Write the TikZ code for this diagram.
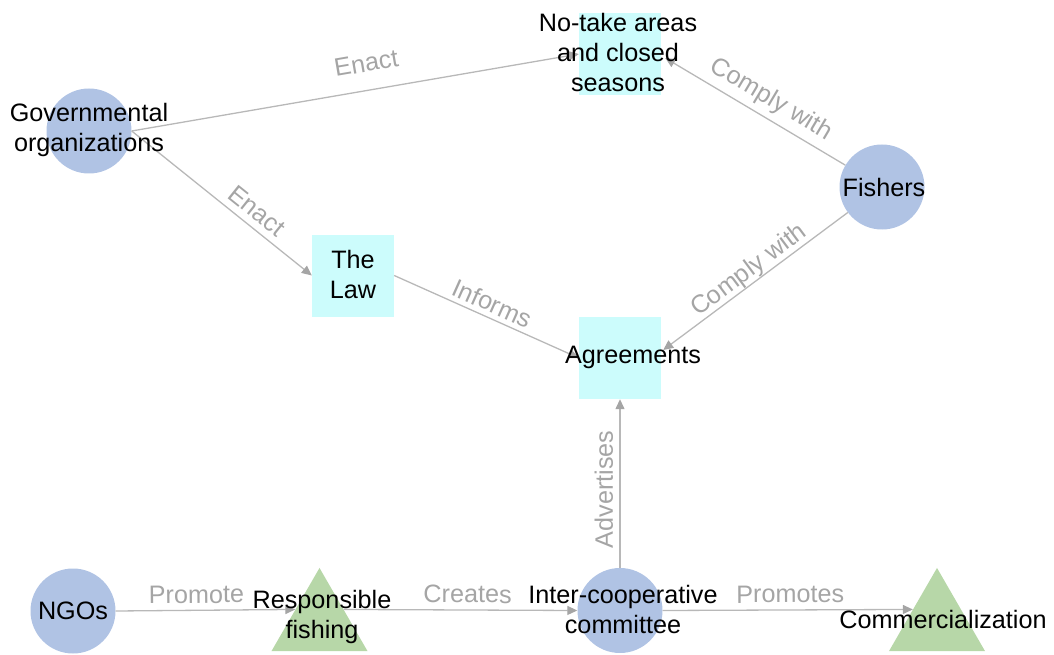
\documentclass[tikz,border=0pt]{standalone}
\usepackage{fontspec}
\setmainfont{Liberation Sans}
\usetikzlibrary{shapes.geometric,arrows.meta,calc}
\definecolor{actorblue}{RGB}{176,195,228}
\definecolor{rulecyan}{RGB}{204,252,252}
\definecolor{outgreen}{RGB}{183,215,168}
\definecolor{edgegray}{RGB}{184,184,184}
\definecolor{labgray}{RGB}{165,165,165}
\tikzset{
  actor/.style={circle,fill=actorblue,draw=none,minimum size=85pt,inner sep=0pt},
  rulebox/.style={rectangle,fill=rulecyan,draw=none,minimum size=82pt,inner sep=0pt},
  outcome/.style={regular polygon,regular polygon sides=3,fill=outgreen,draw=none,minimum size=110.9pt,inner sep=0pt},
  txt/.style={font=\fontsize{25.2}{30}\selectfont,align=center,inner sep=0pt,text=black},
  link/.style={draw=edgegray,line width=1.3pt,-{Triangle[length=10pt,width=9pt,fill=labgray,color=labgray]}},
  lab/.style={font=\fontsize{25.2}{30}\selectfont,text=labgray,inner sep=0pt,text height=17pt,text depth=5pt,sloped}
}
\begin{document}
\begin{tikzpicture}[x=1pt,y=-1pt]
\useasboundingbox (0,0) rectangle (1054,655);
% shapes
\node[actor] (gov) at (89,131) {};
\node[rulebox] (notake) at (620,54) {};
\node[actor] (fishers) at (882,187) {};
\node[rulebox] (law) at (353,275.5) {};
\node[rulebox] (agr) at (620,358) {};
\node[actor] (ngo) at (73,611) {};
\node[outcome] (resp) at (319.5,623.4) {};
\node[actor] (coop) at (620,610.5) {};
\node[outcome] (comm) at (937,623.4) {};
% connectors
\draw[link] (gov.east) -- node[lab,pos=0.535,above=13pt] {Enact} (notake.west);
\draw[link] (gov.east) -- node[lab,pos=0.64,above=2pt] {Enact} (law.west);
\draw[link] (law.east) -- node[lab,pos=0.5,above=0pt] {Informs} (agr.west);
\draw[link] (fishers) -- node[lab,pos=0.463,above=6pt] {Comply with} ([shift={(4,4)}]notake.east);
\draw[link] (fishers) -- node[lab,pos=0.494,above=0pt] {Comply with} ([shift={(2,-8)}]agr.east);
\draw[link] (coop.north) -- node[lab,pos=0.465,above=1.5pt] {Advertises} (agr.south);
\draw[link] (ngo.east) -- node[lab,pos=0.45,above=1.5pt] {Promote} ($(resp.corner 1)!0.5!(resp.corner 2)$);
\draw[link] ($(resp.corner 1)!0.5!(resp.corner 3)$) -- node[lab,pos=0.53,above=1.5pt] {Creates} (coop.west);
\draw[link] (coop.east) -- node[lab,pos=0.51,above=1.5pt] {Promotes} ($(comm.corner 1)!0.5!(comm.corner 2)$);
% texts
\node[txt] (govT) at (89,130) {Governmental\\organizations};
\node[txt] (notakeT) at (618,52) {No-take areas\\and closed\\seasons};
\node[txt] (fishersT) at (884,187) {Fishers};
\node[txt] (lawT) at (353,274) {The\\Law};
\node[txt] (agrT) at (633,357) {Agreements};
\node[txt] (ngoT) at (73,611) {NGOs};
\node[txt] (respT) at (322,617) {Responsible\\fishing};
\node[txt] (coopT) at (623,609) {Inter-cooperative\\committee};
\node[txt] (commT) at (943,619) {Commercialization};
\end{tikzpicture}
\end{document}
